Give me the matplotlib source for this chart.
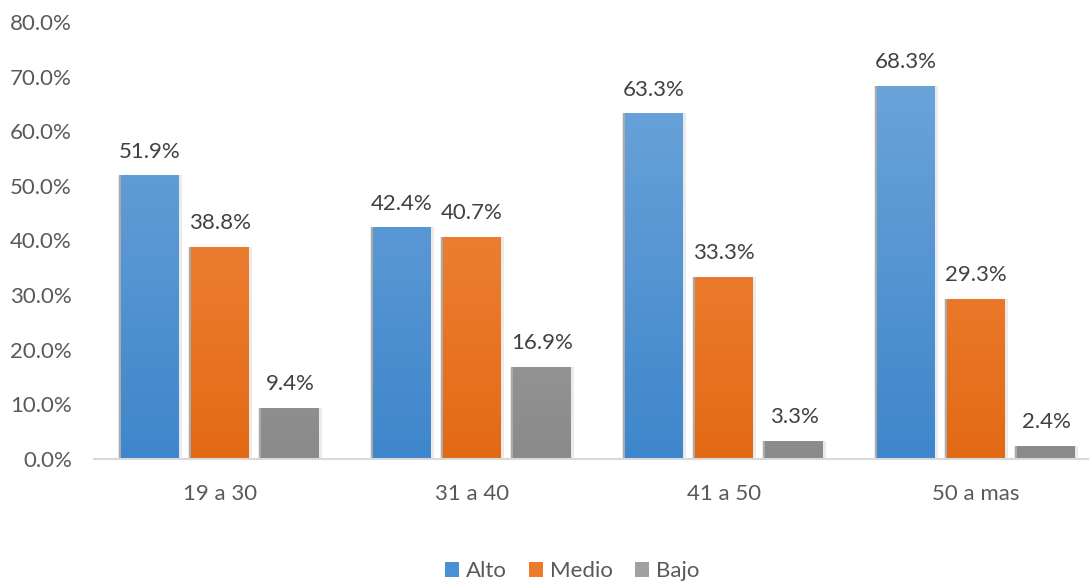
import numpy as np
import matplotlib
matplotlib.use("Agg")
import matplotlib.pyplot as plt
from matplotlib.colors import LinearSegmentedColormap
from matplotlib.patches import Patch
import matplotlib.transforms as mtransforms

categories = ["19 a 30", "31 a 40", "41 a 50", "50 a mas"]
series_names = ["Alto", "Medio", "Bajo"]
alto = [51.9, 42.4, 63.3, 68.3]
medio = [38.8, 40.7, 33.3, 29.3]
bajo = [9.4, 16.9, 3.3, 2.4]
y_ticks = [0, 10, 20, 30, 40, 50, 60, 70, 80]

# (top colour, bottom colour) for each series gradient
gradients = [("#72a8dc", "#3e86cb"), ("#f5914c", "#e36a15"), ("#b3b3b3", "#8a8a8a")]
legend_colors = ["#4a90d4", "#ee7a2c", "#a0a0a0"]

plt.rcParams["font.family"] = ["Lato", "DejaVu Sans"]
FS = 16

W, H = 1089, 583
fig = plt.figure(figsize=(W / 100, H / 100), dpi=100)
left_px, right_px = 94, 1089
bottom_px, top_px = 459, 22
ax = fig.add_axes([left_px / W, 1 - bottom_px / H, (right_px - left_px) / W, (bottom_px - top_px) / H])

group_px = 252.0
xmin = -0.5
xmax = xmin + (right_px - left_px) / group_px

x = np.arange(len(categories))
step = 70 / group_px
width = 58 / group_px
data = [alto, medio, bajo]

for i, (vals, (c_top, c_bot)) in enumerate(zip(data, gradients)):
    pos = x + (i - 1) * step
    # soft drop shadow behind each bar
    shadow_off = mtransforms.offset_copy(ax.transData, fig=fig, x=-2, y=0, units="dots")
    ax.bar(pos, vals, width=width + 6 / group_px, color="#d9d9d9", alpha=0.5,
           zorder=1, linewidth=0)
    ax.bar(pos, vals, width=width, color="#9a9a9a", alpha=0.8, zorder=1.5,
           linewidth=0, transform=shadow_off)
    bars = ax.bar(pos, vals, width=width, color="none", linewidth=0, zorder=2)
    cmap = LinearSegmentedColormap.from_list(f"g{i}", [c_bot, c_top])
    for b, v in zip(bars, vals):
        x0 = b.get_x()
        grad = np.linspace(0, 1, 256).reshape(-1, 1)
        im = ax.imshow(grad, cmap=cmap, origin="lower", aspect="auto",
                       extent=(x0, x0 + width, 0, 80), zorder=2)
        im.set_clip_path(b)
        ax.annotate(f"{v:.1f}%", (b.get_x() + width / 2, v), xytext=(0, 17),
                    textcoords="offset points", ha="center", va="center",
                    fontsize=FS, color="#404040", zorder=3)

ax.set_xlim(xmin, xmax)
ax.set_ylim(0, 80)

ax.set_yticks(y_ticks)
ax.set_yticklabels([f"{t:.1f}%" for t in y_ticks])
ax.set_xticks(x)
ax.set_xticklabels(categories)
ax.tick_params(axis="both", length=0, labelsize=FS, colors="#595959")
ax.tick_params(axis="y", pad=16)
ax.tick_params(axis="x", pad=18)

for s in ["top", "right", "left"]:
    ax.spines[s].set_visible(False)
ax.spines["bottom"].set_color("#d9d9d9")
ax.spines["bottom"].set_linewidth(1.5)
ax.spines["bottom"].set_zorder(4)

handles = [Patch(facecolor=c, edgecolor="none") for c in legend_colors]
fig.legend(handles, series_names, loc="center", bbox_to_anchor=(572 / W, 1 - 571 / H),
           ncol=3, frameon=False, fontsize=FS, handlelength=0.65, handleheight=0.65,
           handletextpad=0.3, columnspacing=1.0, labelcolor="#595959",
           borderpad=0, borderaxespad=0)

fig.savefig("out.png", dpi=100)
